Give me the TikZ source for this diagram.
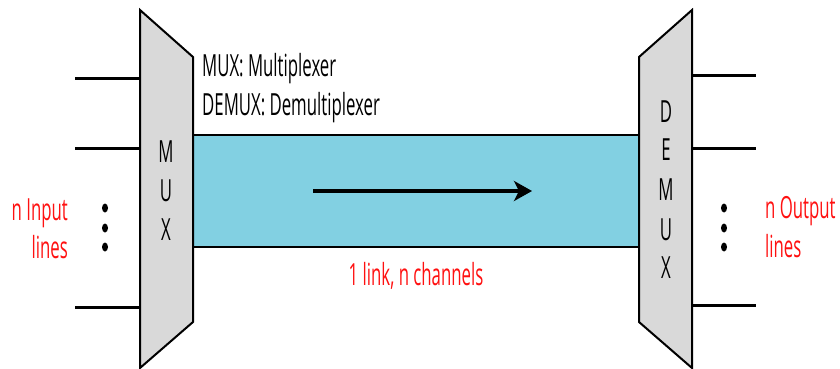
\documentclass[tikz,border=0pt]{standalone}
\usepackage{fontspec}
\setmainfont{Open Sans}[FakeStretch=0.55]
\usetikzlibrary{arrows.meta}
\definecolor{muxgray}{HTML}{D9D9D9}
\definecolor{linkblue}{HTML}{82D0E2}
\definecolor{lblred}{HTML}{FF1010}
\begin{document}
\begin{tikzpicture}[x=1pt,y=-1pt,
  font=\fontsize{30.5}{36}\selectfont,
  box/.style={draw=black,line width=2pt,fill=muxgray,line join=miter},
  wire/.style={draw=black,line width=3pt},
  lbl/.style={inner sep=0pt,anchor=base},
  redlbl/.style={inner sep=0pt,text=lblred},
  dotmark/.style={fill=black}]
\useasboundingbox (0,0) rectangle (840,369);
% link band
\fill[linkblue] (193,135) rectangle (639,247);
\coordinate (lt1) at (193,135); \coordinate (lt2) at (639,135);
\coordinate (lb1) at (193,247); \coordinate (lb2) at (639,247);
\draw[line width=2pt] (lt1) -- (lt2);
\draw[line width=2pt] (lb1) -- (lb2);
% MUX
\draw[box] (140,10) -- (193,57) -- (193,322) -- (140,368) -- cycle;
% DEMUX
\draw[box] (639,57) -- (692,10) -- (692,368) -- (639,322) -- cycle;
% letters
\foreach \c/\y in {M/162,U/201,X/240} \node[lbl] at (166,\y) {\c};
\foreach \c/\y in {D/122,E/160,M/200,U/240,X/278} \node[lbl] at (666,\y) {\c};
% input lines
\foreach \y [count=\i] in {78,148,307} {
  \coordinate (in\i) at (75,\y); \coordinate (mi\i) at (140,\y);
  \draw[wire] (in\i) -- (mi\i);}
\foreach \y [count=\i] in {75,148,305} {
  \coordinate (out\i) at (756,\y); \coordinate (do\i) at (692,\y);
  \draw[wire] (do\i) -- (out\i);}
% dots
\foreach \y [count=\i] in {208,228,247} {
  \fill[dotmark] (105,\y) ellipse [x radius=3pt, y radius=4.5pt];
  \fill[dotmark] (724,\y) ellipse [x radius=3pt, y radius=4.5pt];}
% arrow
\coordinate (a1) at (313,191); \coordinate (a2) at (532,191);
\draw[line width=4.5pt,-{Stealth[length=18pt,width=20pt,inset=5pt]}] (a1) -- (a2);
% texts
\node[lbl,anchor=base west] (t1) at (202,77) {MUX: Multiplexer};
\node[lbl,anchor=base west] (t2) at (202,115) {DEMUX: Demultiplexer};
\node[redlbl,anchor=base east] (r1) at (68,220) {n Input};
\node[redlbl,anchor=base east] (r2) at (68,258) {lines};
\node[redlbl,anchor=base west] (r3) at (765,218) {n Output};
\node[redlbl,anchor=base west] (r4) at (765,257) {lines};
\node[redlbl,anchor=base] (r5) at (416,285) {1 link, n channels};
\end{tikzpicture}
\end{document}
